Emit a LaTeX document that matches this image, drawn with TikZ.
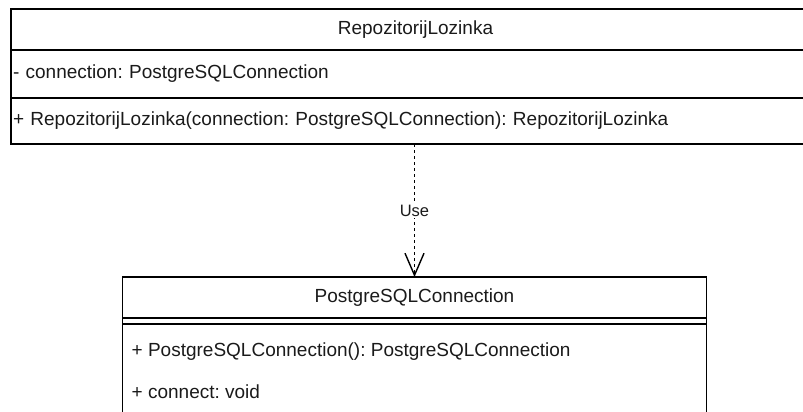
\documentclass[tikz,border=0pt]{standalone}
\usepackage{fontspec}
\setmainfont{Liberation Sans}
\usetikzlibrary{arrows.meta,positioning}
\definecolor{umlink}{HTML}{1A1A1A}
\frenchspacing

\begin{document}
\begin{tikzpicture}[x=1pt,y=-1pt]
    \tikzstyle{compartment} = [draw=black,shape=rectangle,line width=1.4pt,outer sep=0pt,inner ysep=0pt,text=umlink,font=\fontsize{19}{23}\selectfont]
\tikzstyle{rtitle} = [compartment,minimum width=809pt,minimum height=41pt]
\tikzstyle{rmember} = [compartment,text width=805pt,inner xsep=2pt,align=left]
\tikzstyle{ptitle} = [compartment,minimum width=584pt,minimum height=41pt]
\tikzstyle{pmember} = [compartment,minimum width=584pt]
\tikzstyle{rowtext} = [anchor=west,inner sep=0pt,text=umlink,font=\fontsize{19}{23}\selectfont]
\tikzstyle{dep} = [draw=black,line width=1.4pt,dash pattern=on 3pt off 3pt,-{Straight Barb[length=22pt,width=19pt]}]
\tikzstyle{elabel} = [fill=white,inner sep=2pt,text=umlink,font=\fontsize{16.5}{19}\selectfont]

\useasboundingbox (0,0) rectangle (803,412);
\clip (0,0) rectangle (803,412);

\node[rtitle] (repo) at (415.5,29.5) {RepozitorijLozinka};
\node[rmember,minimum height=48pt,below=0pt of repo] (repoattr) {- connection: PostgreSQLConnection};
\node[rmember,minimum height=46pt,below=0pt of repoattr] (repometh) {+ RepozitorijLozinka(connection: PostgreSQLConnection): RepozitorijLozinka};

\node[ptitle] (pg) at (414.5,297.5) {PostgreSQLConnection};
\node[pmember,minimum height=6pt,below=0pt of pg] (pgattr) {};
\node[pmember,minimum height=110pt,below=0pt of pgattr] (pgmeth) {};
\node[rowtext] (pgctor) at (131.5,352) {+ PostgreSQLConnection(): PostgreSQLConnection};
\node[rowtext] (pgconn) at (131.5,392) {+ connect: void};

\draw[dep] (repometh.south -| pg.north) -- node[elabel] (use) {Use} (pg.north);

\end{tikzpicture}
\end{document}
